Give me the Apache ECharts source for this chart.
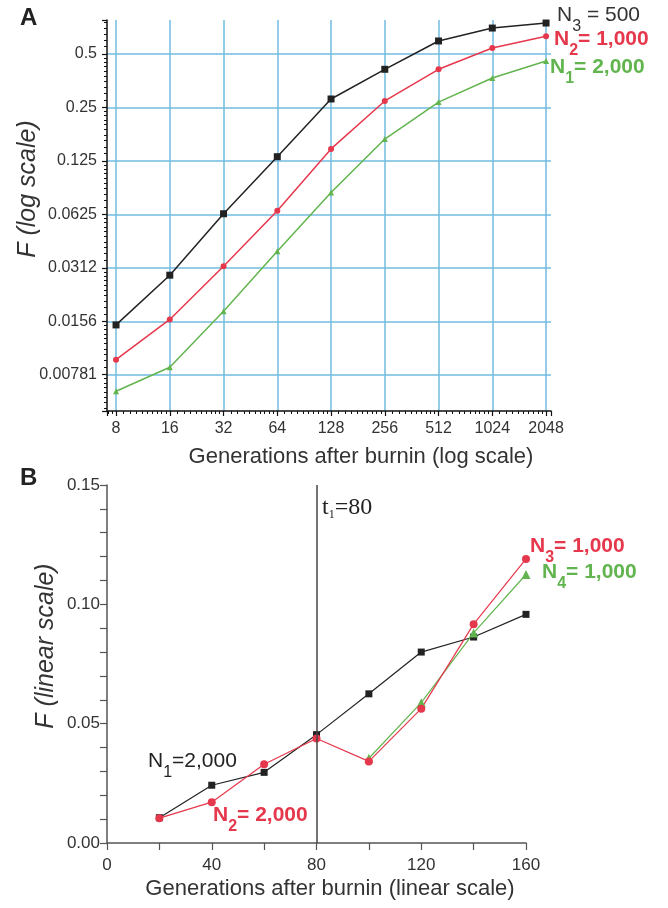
<!DOCTYPE html>
<html><head><meta charset="utf-8">
<script src="https://cdn.jsdelivr.net/npm/echarts@6/dist/echarts.min.js"></script>
<style>html,body{margin:0;padding:0;background:#fff}#c{width:668px;height:908px}</style>
</head><body><div id="c"></div>
<script>
// Panel A (log-log)
const genA = [8, 16, 32, 64, 128, 256, 512, 1024, 2048];
const fA_N3 = [0.0149, 0.0284, 0.0630, 0.132, 0.279, 0.41, 0.592, 0.70, 0.747];
const fA_N2 = [0.0095, 0.0160, 0.0319, 0.0655, 0.146, 0.272, 0.41, 0.54, 0.63];
const fA_N1 = [0.0063, 0.0086, 0.0178, 0.0387, 0.083, 0.166, 0.268, 0.366, 0.457];
const yTickValuesA = [0.0078125, 0.015625, 0.03125, 0.0625, 0.125, 0.25, 0.5];
const yTickLabelsA = ['0.00781', '0.0156', '0.0312', '0.0625', '0.125', '0.25', '0.5'];
const xTickLabelsA = ['8', '16', '32', '64', '128', '256', '512', '1024', '2048'];

// Panel B (linear)
const genB = [20, 40, 60, 80, 100, 120, 140, 160];
const fB_N1 = [0.0106, 0.0242, 0.0296, 0.0454, 0.0625, 0.080, 0.0863, 0.0958];
const fB_N2N3 = [0.0104, 0.0171, 0.0330, 0.0438, 0.0342, 0.0563, 0.0917, 0.119];
const genB_N4 = [100, 120, 140, 160];
const fB_N4 = [0.0355, 0.0588, 0.0880, 0.1125];
const t1 = 80;

const RED = '#e6384c', GREEN = '#62b54e', BLACK = '#222', GRIDC = '#72bde0';
const FONT = 'Liberation Sans, Arial, sans-serif';

function pairs(xs, ys) { return xs.map((x, i) => [x, ys[i]]); }
function isPow(v) { const l = Math.log2(v); return Math.abs(l - Math.round(l)) < 0.01; }

function subLabel(x, y, main, sub, rest, color, bold) {
  const w = bold ? 'bold ' : '';
  return {type: 'text', x: x, y: y, style: {text: '{a|' + main + '}{s|' + sub + '}{a|' + rest + '}', rich: {
    a: {font: w + '21px ' + FONT, fill: color, lineHeight: 21, verticalAlign: 'top'},
    s: {font: w + '16px ' + FONT, fill: color, lineHeight: 30, verticalAlign: 'bottom'}}}};
}

const chart = echarts.init(document.getElementById('c'), null, {renderer: 'canvas'});
const tickA = {color: '#333', fontFamily: FONT, fontSize: 16};
const tickB = {color: '#333', fontFamily: FONT, fontSize: 17};

chart.setOption({
  animation: false,
  grid: [
    {left: 107, top: 20, width: 444, height: 391},
    {left: 107, top: 485, width: 419, height: 358}
  ],
  xAxis: [
    {gridIndex: 0, type: 'log', logBase: 2, min: 7.12, max: 2183,
     axisLine: {lineStyle: {color: '#111', width: 1.5}},
     axisTick: {show: true, length: 5, lineStyle: {color: '#111', width: 1.2}},
     minorTick: {show: true, splitNumber: 10, length: 3, lineStyle: {color: '#111'}},
     splitLine: {show: true, showMinLine: false, showMaxLine: false, lineStyle: {color: GRIDC, width: 1.5}},
     axisLabel: Object.assign({}, tickA, {margin: 10, showMinLabel: false, showMaxLabel: false,
       formatter: v => isPow(v) ? xTickLabelsA[genA.indexOf(Math.round(v))] || '' : ''})},
    {gridIndex: 1, type: 'value', min: 0, max: 160, interval: 40,
     axisLine: {lineStyle: {color: '#555', width: 1.5}},
     axisTick: {show: true, length: 7, lineStyle: {color: '#555', width: 1.2}},
     minorTick: {show: true, splitNumber: 2, length: 7, lineStyle: {color: '#555', width: 1.2}},
     splitLine: {show: false},
     axisLabel: Object.assign({}, tickB, {margin: 14})}
  ],
  yAxis: [
    {gridIndex: 0, type: 'log', logBase: 2, min: 0.00488, max: 0.777,
     axisLine: {show: true, lineStyle: {color: '#111', width: 1.5}},
     axisTick: {show: true, length: 5, lineStyle: {color: '#111', width: 1.2}},
     minorTick: {show: true, splitNumber: 10, length: 3, lineStyle: {color: '#111'}},
     splitLine: {show: true, showMinLine: false, showMaxLine: false, lineStyle: {color: GRIDC, width: 1.5}},
     axisLabel: Object.assign({}, tickA, {margin: 10, showMinLabel: false, showMaxLabel: false,
       formatter: v => {
         if (!isPow(v)) return '';
         const i = yTickValuesA.findIndex(t => Math.abs(Math.log2(t) - Math.log2(v)) < 0.01);
         return i >= 0 ? yTickLabelsA[i] : '';
       }})},
    {gridIndex: 1, type: 'value', min: 0, max: 0.15, interval: 0.05,
     axisLine: {show: true, lineStyle: {color: '#555', width: 1.5}},
     axisTick: {show: true, length: 7, lineStyle: {color: '#555', width: 1.2}},
     minorTick: {show: true, splitNumber: 5, length: 7, lineStyle: {color: '#555', width: 1.2}},
     splitLine: {show: false},
     axisLabel: Object.assign({}, tickB, {margin: 7, formatter: v => v.toFixed(2)})}
  ],
  series: [
    {type: 'line', xAxisIndex: 0, yAxisIndex: 0, data: pairs(genA, fA_N1), symbol: 'triangle', symbolSize: 6,
     lineStyle: {color: GREEN, width: 1.5}, itemStyle: {color: GREEN}},
    {type: 'line', xAxisIndex: 0, yAxisIndex: 0, data: pairs(genA, fA_N2), symbol: 'circle', symbolSize: 6,
     lineStyle: {color: RED, width: 1.5}, itemStyle: {color: RED}},
    {type: 'line', xAxisIndex: 0, yAxisIndex: 0, data: pairs(genA, fA_N3), symbol: 'rect', symbolSize: 7,
     lineStyle: {color: BLACK, width: 1.5}, itemStyle: {color: BLACK}},

    {type: 'line', xAxisIndex: 1, yAxisIndex: 1, data: pairs(genB, fB_N1), symbol: 'rect', symbolSize: 7,
     lineStyle: {color: BLACK, width: 1.2}, itemStyle: {color: BLACK},
     markLine: {silent: true, symbol: 'none', label: {show: false},
       lineStyle: {color: '#444', width: 1.5, type: 'solid'}, data: [{xAxis: t1}]}},
    {type: 'line', xAxisIndex: 1, yAxisIndex: 1, data: pairs(genB_N4, fB_N4), symbol: 'triangle', symbolSize: 9,
     lineStyle: {color: GREEN, width: 1.2}, itemStyle: {color: GREEN}},
    {type: 'line', xAxisIndex: 1, yAxisIndex: 1, data: pairs(genB, fB_N2N3), symbol: 'circle', symbolSize: 8,
     lineStyle: {color: RED, width: 1.2}, itemStyle: {color: RED}}
  ],
  graphic: [
    {type: 'text', left: 20, top: 6, style: {text: 'A', font: 'bold 24px ' + FONT, fill: '#222'}},
    {type: 'text', left: 20, top: 466, style: {text: 'B', font: 'bold 24px ' + FONT, fill: '#222'}},
    {type: 'text', x: 361, y: 457, style: {text: 'Generations after burnin (log scale)', font: '22px ' + FONT, fill: '#333', align: 'center', verticalAlign: 'middle'}},
    {type: 'text', x: 330, y: 889, style: {text: 'Generations after burnin (linear scale)', font: '22px ' + FONT, fill: '#333', align: 'center', verticalAlign: 'middle'}},
    {type: 'text', x: 28, y: 189, rotation: Math.PI / 2, style: {text: 'F (log scale)', font: 'italic 25px ' + FONT, fill: '#333', align: 'center', verticalAlign: 'middle'}},
    {type: 'text', x: 46, y: 646, rotation: Math.PI / 2, style: {text: 'F (linear scale)', font: 'italic 25px ' + FONT, fill: '#333', align: 'center', verticalAlign: 'middle'}},
    {type: 'text', x: 322, y: 496, style: {text: '{a|t}{s|1}{a|=80}', rich: {
      a: {font: '24px Liberation Serif, serif', fill: '#222', lineHeight: 24, verticalAlign: 'top'},
      s: {font: '12px Liberation Serif, serif', fill: '#222', lineHeight: 25, verticalAlign: 'bottom'}}}},
    // Panel A labels
    subLabel(557, 5, 'N', '3', ' = 500', '#333', false),
    subLabel(554, 29, 'N', '2', '= 1,000', RED, true),
    subLabel(550, 57, 'N', '1', '= 2,000', GREEN, true),
    // Panel B labels
    subLabel(530, 536, 'N', '3', '= 1,000', RED, true),
    subLabel(542, 562, 'N', '4', '= 1,000', GREEN, true),
    subLabel(148, 751, 'N', '1', '=2,000', '#222', false),
    subLabel(213, 805, 'N', '2', '= 2,000', RED, true)
  ]
});
</script></body></html>
